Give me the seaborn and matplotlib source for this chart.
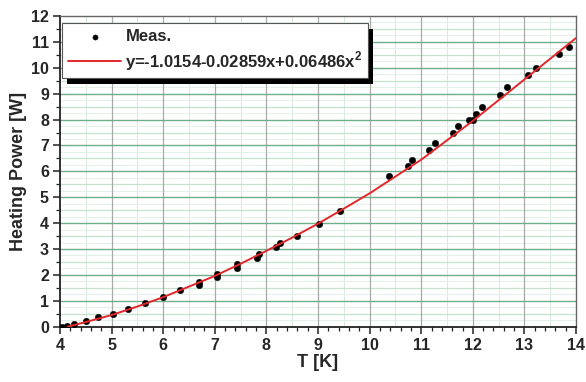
import numpy as np
import pandas as pd
import seaborn as sns
import matplotlib.pyplot as plt
from matplotlib.patches import Rectangle
from matplotlib.ticker import MultipleLocator

t_meas = [4.03, 4.13, 4.27, 4.50, 4.74, 5.03, 5.32, 5.65, 5.99, 6.32,
          6.69, 6.69, 7.05, 7.05, 7.43, 7.43, 7.81, 7.86, 8.19, 8.26,
          8.60, 9.02, 9.43, 10.38, 10.74, 10.83, 11.16, 11.27, 11.61, 11.72,
          11.93, 12.00, 12.07, 12.18, 12.53, 12.67, 13.07, 13.22, 13.67, 13.86]
p_meas = [0.00, 0.04, 0.12, 0.23, 0.36, 0.50, 0.69, 0.91, 1.16, 1.43,
          1.71, 1.60, 2.05, 1.92, 2.43, 2.26, 2.65, 2.81, 3.08, 3.23,
          3.50, 3.98, 4.48, 5.83, 6.19, 6.45, 6.83, 7.09, 7.50, 7.77,
          7.97, 7.99, 8.22, 8.48, 8.96, 9.24, 9.73, 10.01, 10.54, 10.82]

# fitted curve
t_fit = [4.15, 4.5, 5.0, 5.5, 6.0, 6.5, 7.0, 7.5, 8.0, 8.5, 9.0,
         9.5, 10.0, 10.5, 11.0, 11.5, 12.0, 12.5, 13.0, 13.5, 14.0]
p_fit = [0.00, 0.18, 0.45, 0.78, 1.14, 1.55, 1.96, 2.43, 2.93, 3.44, 3.98,
         4.56, 5.15, 5.80, 6.45, 7.20, 7.95, 8.75, 9.55, 10.35, 11.15]

meas = pd.DataFrame({"T": t_meas, "P": p_meas})
fit = pd.DataFrame({"T": t_fit, "P": p_fit})

sns.set_theme(style="ticks")
plt.rcParams["font.family"] = ["Liberation Sans", "DejaVu Sans"]
plt.rcParams["font.weight"] = "bold"

fig = plt.figure(figsize=(5.86, 3.82), dpi=100)
ax = fig.add_axes([0.1024, 0.1448, 0.8806, 0.8133])

# grid
ax.xaxis.set_major_locator(MultipleLocator(1))
ax.xaxis.set_minor_locator(MultipleLocator(0.2))
ax.yaxis.set_major_locator(MultipleLocator(1))
ax.yaxis.set_minor_locator(MultipleLocator(0.5))
for v in np.arange(4.5, 14, 1.0):
    ax.axvline(v, color="#dbe9e0", lw=0.8, zorder=0)
for v in np.arange(0.25, 12, 0.5):
    ax.axhline(v, color="#e4f1e8", lw=0.8, zorder=0)
for v in np.arange(0.5, 12, 1.0):
    ax.axhline(v, color="#c5e2cf", lw=0.9, zorder=0)
ax.grid(False)
for v in range(5, 14):
    ax.axvline(v, color="#a8aca8", lw=0.9, zorder=0.5)
for v in range(1, 12):
    ax.axhline(v, color="#6fae8a", lw=1.0, zorder=0.5)

sns.scatterplot(data=meas, x="T", y="P", ax=ax, color="black", s=22,
                edgecolor="black", linewidth=0.3, zorder=3, label="Meas.")
sns.lineplot(data=fit, x="T", y="P", ax=ax, color="#e3262a", lw=1.4,
             zorder=4, label=r"y=-1.0154-0.02859x+0.06486x$^\mathregular{2}$")

ax.set_xlim(4, 14)
ax.set_ylim(0, 12)
ax.set_xlabel("T [K]", fontsize=13, fontweight="bold", labelpad=1)
ax.set_ylabel("Heating Power [W]", fontsize=13, fontweight="bold", labelpad=3)
ax.tick_params(which="major", direction="out", length=5, width=1.1,
               labelsize=11.5, pad=3, color="#222222")
ax.tick_params(which="minor", direction="out", length=3, width=0.9,
               color="#222222")
for lab in ax.get_xticklabels() + ax.get_yticklabels():
    lab.set_fontweight("bold")

for s in ["left", "bottom"]:
    ax.spines[s].set_color("#222222")
    ax.spines[s].set_linewidth(1.3)
for s in ["top", "right"]:
    ax.spines[s].set_color("#666666")
    ax.spines[s].set_linewidth(1.0)

leg = ax.legend(loc="upper left", bbox_to_anchor=(0.004, 0.977),
                borderaxespad=0, fancybox=False, framealpha=1,
                edgecolor="#555555", fontsize=12, handlelength=3.2,
                handletextpad=0.25, borderpad=0.35, labelspacing=0.3,
                markerscale=0.8)
leg.get_frame().set_linewidth(0.8)
leg.set_zorder(10)
for txt in leg.get_texts():
    txt.set_fontweight("bold")

# heavy drop shadow behind the legend box
fig.canvas.draw()
bb = leg.get_window_extent().transformed(ax.transAxes.inverted())
dx = 5 / (ax.bbox.width)
dy = 6 / (ax.bbox.height)
ax.add_patch(Rectangle((bb.x0 + dx, bb.y0 - dy), bb.width, bb.height,
                       transform=ax.transAxes, facecolor="black",
                       edgecolor="none", zorder=9))

fig.savefig("out.png", dpi=100)
